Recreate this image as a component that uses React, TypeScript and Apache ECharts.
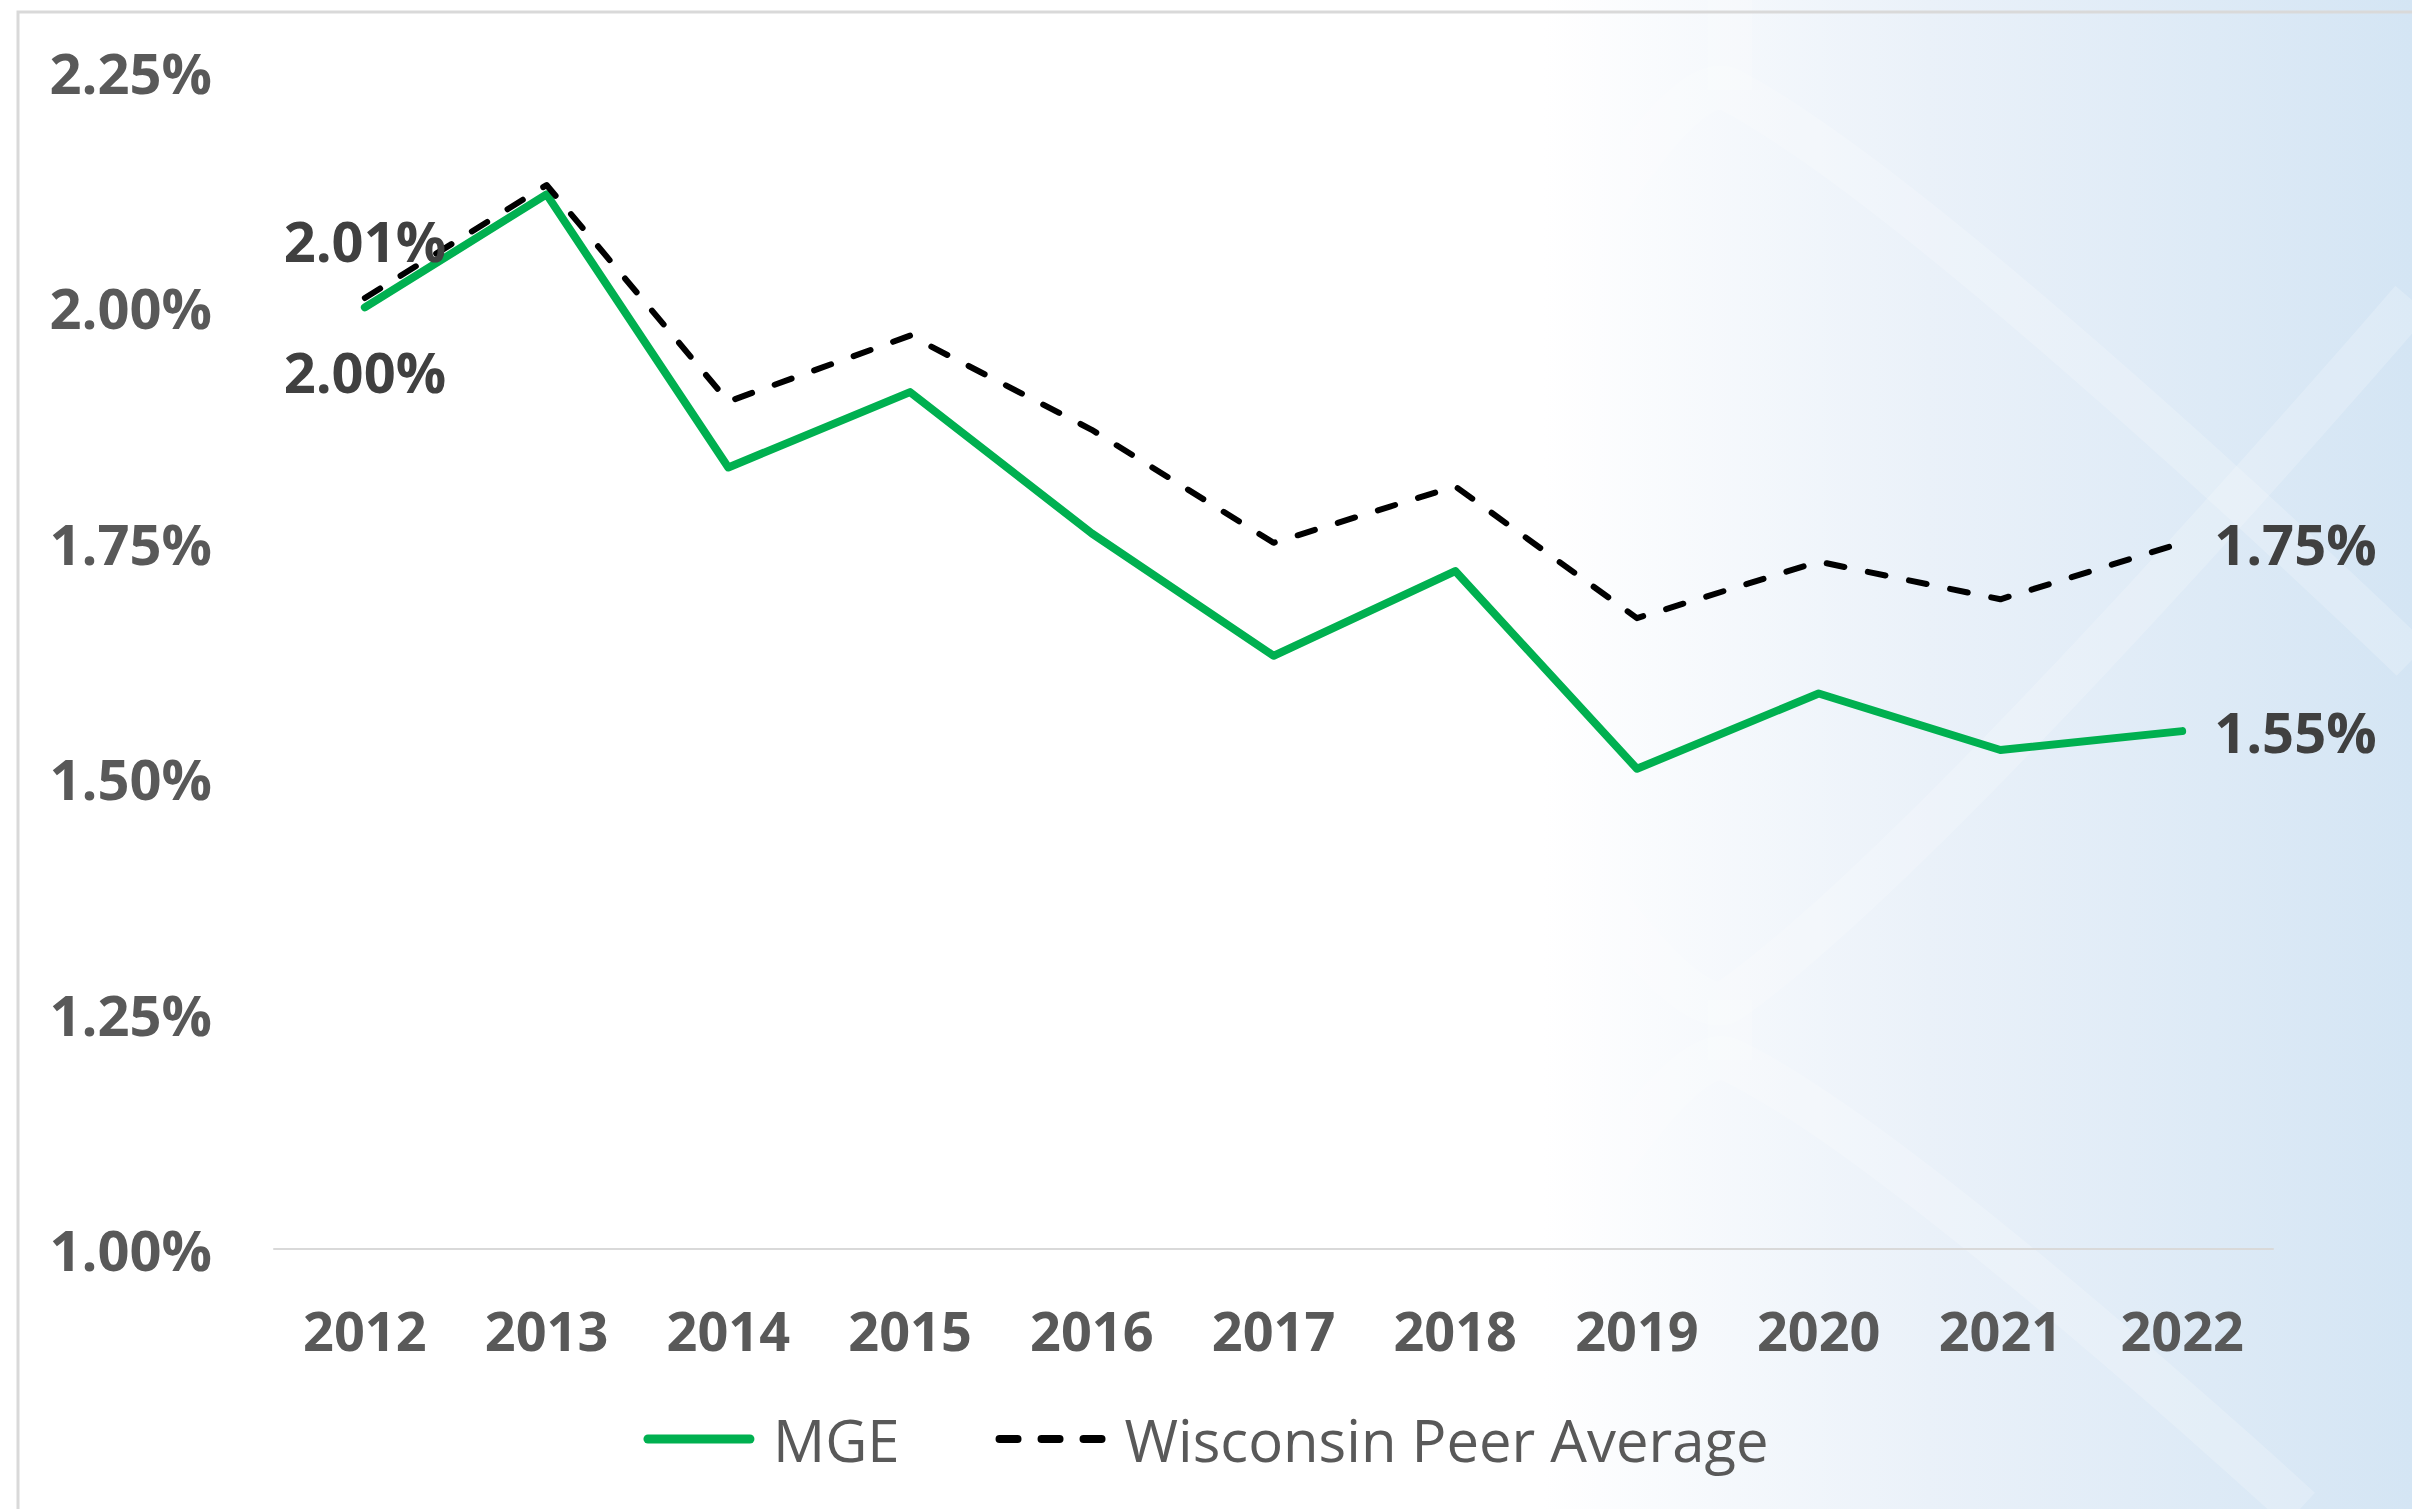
import React, { useEffect, useRef } from "react";
import * as echarts from "echarts";

const years = ["2012", "2013", "2014", "2015", "2016", "2017", "2018", "2019", "2020", "2021", "2022"];
const mgeValues = [2.0, 2.12, 1.83, 1.91, 1.76, 1.63, 1.72, 1.51, 1.59, 1.53, 1.55];
const peerValues = [2.01, 2.13, 1.9, 1.97, 1.87, 1.75, 1.81, 1.67, 1.73, 1.69, 1.75];
const yTicks = { min: 1.0, max: 2.25, interval: 0.25 };
const seriesNames = ["MGE", "Wisconsin Peer Average"];

const FONT = "'Open Sans', 'DejaVu Sans', sans-serif";

function buildData(values: number[], firstPos: string, firstDist: number) {
  const last = values.length - 1;
  return values.map((v, i) => {
    if (i === 0) {
      return { value: v, label: { show: true, position: firstPos, distance: firstDist } };
    }
    if (i === last) {
      return { value: v, label: { show: true, position: "right", distance: 32 } };
    }
    return { value: v };
  });
}

const patternStyle = { stroke: "rgba(255,255,255,0.2)", lineWidth: 44, fill: null };

export default function App() {
  const ref = useRef<HTMLDivElement>(null);
  useEffect(() => {
    if (!ref.current) return;
    const chart = echarts.init(ref.current, null, { renderer: "svg" });
    const labelStyle = {
      show: false,
      formatter: (p: any) => Number(p.value).toFixed(2) + "%",
      color: "#404040",
      fontFamily: FONT,
      fontWeight: "bold",
      fontSize: 56,
    };
    chart.setOption({
      animation: false,
      graphic: [
        {
          type: "rect",
          z: -10,
          silent: true,
          shape: { x: 0, y: 0, width: 2412, height: 1509 },
          style: {
            fill: new echarts.graphic.LinearGradient(0, 0, 1, 0, [
              { offset: 0, color: "#ffffff" },
              { offset: 0.64, color: "#ffffff" },
              { offset: 0.8, color: "#eaf1f9" },
              { offset: 1, color: "#d4e5f4" },
            ]),
          },
        },
        {
          type: "polyline",
          z: -9,
          silent: true,
          shape: { points: [[1590, 230], [1730, 90], [2412, 660]], smooth: 0.3 },
          style: patternStyle,
        },
        {
          type: "polyline",
          z: -9,
          silent: true,
          shape: { points: [[1590, 880], [1730, 1000], [2412, 300]], smooth: 0.3 },
          style: patternStyle,
        },
        {
          type: "polyline",
          z: -9,
          silent: true,
          shape: { points: [[1600, 1180], [1730, 1060], [2300, 1509]], smooth: 0.3 },
          style: patternStyle,
        },
        {
          type: "polyline",
          z: -9,
          silent: true,
          shape: { points: [[1730, 90], [1730, -40]] },
          style: patternStyle,
        },
        {
          type: "polyline",
          z: -9,
          silent: true,
          shape: { points: [[1730, 1000], [1730, 1060]] },
          style: patternStyle,
        },
        {
          type: "rect",
          z: -8,
          silent: true,
          shape: { x: 18, y: 12, width: 3000, height: 3000 },
          style: { stroke: "#d9d9d9", lineWidth: 3, fill: null },
        },
      ],
      grid: { left: 274, right: 139, top: 72, bottom: 260, containLabel: false },
      legend: {
        bottom: 36,
        left: "center",
        itemWidth: 102,
        itemHeight: 16,
        itemGap: 96,
        data: [
          { name: seriesNames[0], lineStyle: { width: 9 } },
          { name: seriesNames[1], lineStyle: { width: 8 } },
        ],
        itemStyle: { opacity: 0 },
        textStyle: {
          color: "#595959",
          fontFamily: FONT,
          fontSize: 58,
          padding: [0, 0, 0, 18],
        },
      },
      xAxis: {
        type: "category",
        data: years,
        boundaryGap: true,
        axisLine: { show: true, lineStyle: { color: "#d9d9d9", width: 2 } },
        axisTick: { show: false },
        axisLabel: {
          color: "#595959",
          fontFamily: FONT,
          fontWeight: "bold",
          fontSize: 54,
          margin: 54,
        },
      },
      yAxis: {
        type: "value",
        min: yTicks.min,
        max: yTicks.max,
        interval: yTicks.interval,
        axisLine: { show: false },
        axisTick: { show: false },
        splitLine: { show: false },
        axisLabel: {
          color: "#595959",
          fontFamily: FONT,
          fontWeight: "bold",
          fontSize: 56,
          margin: 62,
          formatter: (v: number) => v.toFixed(2) + "%",
        },
      },
      series: [
        {
          name: seriesNames[0],
          type: "line",
          data: buildData(mgeValues, "bottom", 36),
          symbol: "circle",
          symbolSize: 0,
          showSymbol: true,
          z: 2,
          lineStyle: { color: "#00b050", width: 8, cap: "round", join: "round" },
          itemStyle: { color: "#00b050" },
          label: labelStyle,
        },
        {
          name: seriesNames[1],
          type: "line",
          data: buildData(peerValues, "top", 30),
          symbol: "circle",
          symbolSize: 0,
          showSymbol: true,
          z: 3,
          lineStyle: { color: "#000000", width: 6, type: [18, 24], cap: "round", join: "round" },
          itemStyle: { color: "#000000" },
          label: labelStyle,
        },
      ],
    });
    return () => chart.dispose();
  }, []);
  return (
    <div
      ref={ref}
      style={{ position: "fixed", left: 0, top: 0, width: 2412, height: 1509 }}
    />
  );
}
